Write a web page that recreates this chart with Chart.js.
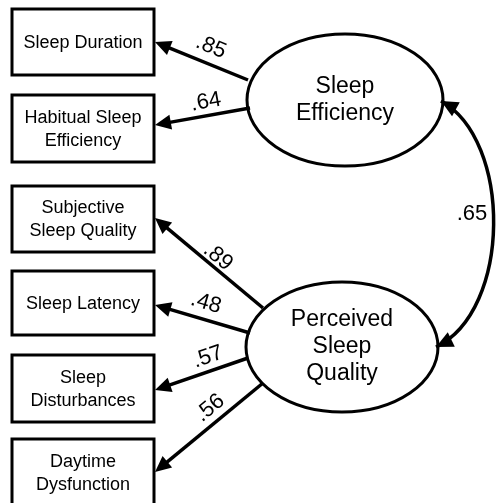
<!DOCTYPE html>
<html>
<head>
<meta charset="utf-8">
<script src="https://cdn.jsdelivr.net/npm/chart.js@4/dist/chart.umd.min.js"></script>
<style>
  html, body { margin: 0; padding: 0; background: #fff; }
  #wrap { width: 497px; height: 503px; }
</style>
</head>
<body>
<div id="wrap"><canvas id="myChart" width="497" height="503"></canvas></div>
<script>
// model contents
var factors = ['Sleep\nEfficiency', 'Perceived\nSleep\nQuality'];
var indicators = ['Sleep Duration', 'Habitual Sleep\nEfficiency', 'Subjective\nSleep Quality',
                  'Sleep Latency', 'Sleep\nDisturbances', 'Daytime\nDysfunction'];
var indicatorFactor = [0, 0, 1, 1, 1, 1];
var loadings = [.85, .64, .89, .48, .57, .56];
var factorCorrelation = .65;

// layout of the diagram (in axis units)
var boxX = [12, 154];
var boxY = [[9, 75], [95, 162], [186, 252], [271, 335], [355, 422], [439, 506]];
var ellipses = [{cx: 345, cy: 100, rx: 98, ry: 66}, {cx: 342, cy: 347, rx: 96, ry: 65}];
var arrowStart = [[248, 80], [250, 108], [263, 308], [250, 333], [248, 358], [263, 383]];
var arrowTipY = [42, 125, 218, 305, 390, 472];
var labelPos = [[211, 47], [206, 102], [218, 257], [206, 303], [208, 357], [210, 408]];
var corrCurve = [[441, 101], [512, 140], [512, 310], [436, 347]];
var corrLabelPos = [472, 214];

function fmt(v) { return v.toFixed(2).replace(/^0/, ''); }

function head(c, tx, ty, fx, fy, len, half) {
  var a = Math.atan2(ty - fy, tx - fx);
  c.beginPath();
  c.moveTo(tx, ty);
  c.lineTo(tx - len * Math.cos(a) + half * Math.sin(a), ty - len * Math.sin(a) - half * Math.cos(a));
  c.lineTo(tx - len * Math.cos(a) - half * Math.sin(a), ty - len * Math.sin(a) + half * Math.cos(a));
  c.closePath();
  c.fill();
  return a;
}

function multiText(c, txt, x, y, lh) {
  var lines = txt.split('\n');
  var y0 = y - (lines.length - 1) * lh / 2;
  lines.forEach(function (l, i) { c.fillText(l, x, y0 + i * lh); });
}

var pathDiagram = {
  id: 'pathDiagram',
  afterDraw: function (chart) {
    var c = chart.ctx, sx = chart.scales.x, sy = chart.scales.y;
    var X = function (v) { return sx.getPixelForValue(v); };
    var Y = function (v) { return sy.getPixelForValue(v); };
    c.save();
    c.strokeStyle = '#000';
    c.fillStyle = '#000';
    c.textAlign = 'center';
    c.textBaseline = 'middle';

    // indicator boxes
    c.lineWidth = 3;
    indicators.forEach(function (name, i) {
      var x0 = X(boxX[0]), x1 = X(boxX[1]), y0 = Y(boxY[i][0]), y1 = Y(boxY[i][1]);
      c.strokeRect(x0, y0, x1 - x0, y1 - y0);
      c.font = '18px "Liberation Sans", Arial, sans-serif';
      multiText(c, name, (x0 + x1) / 2, (y0 + y1) / 2 + 1, 23);
    });

    // latent factors
    factors.forEach(function (name, i) {
      var e = ellipses[i];
      c.lineWidth = 3;
      c.beginPath();
      c.ellipse(X(e.cx), Y(e.cy), e.rx, e.ry, 0, 0, Math.PI * 2);
      c.stroke();
      c.font = '23px "Liberation Sans", Arial, sans-serif';
      multiText(c, name, X(e.cx), Y(e.cy), 27);
    });

    // loadings
    loadings.forEach(function (v, i) {
      var fx = X(arrowStart[i][0]), fy = Y(arrowStart[i][1]);
      var tx = X(boxX[1] + 1), ty = Y(arrowTipY[i]);
      var a = Math.atan2(ty - fy, tx - fx);
      c.lineWidth = 3.5;
      c.beginPath();
      c.moveTo(fx, fy);
      c.lineTo(tx - 12 * Math.cos(a), ty - 12 * Math.sin(a));
      c.stroke();
      head(c, tx, ty, fx, fy, 16, 7.5);
      var ang = Math.atan2(fy - ty, fx - tx);
      c.save();
      c.translate(X(labelPos[i][0]), Y(labelPos[i][1]));
      c.rotate(ang);
      c.font = '22px "Liberation Sans", Arial, sans-serif';
      c.fillText(fmt(v), 0, 0);
      c.restore();
    });

    // factor correlation
    var p = corrCurve.map(function (q) { return [X(q[0]), Y(q[1])]; });
    c.lineWidth = 3.5;
    c.beginPath();
    c.moveTo(p[0][0], p[0][1]);
    c.bezierCurveTo(p[1][0], p[1][1], p[2][0], p[2][1], p[3][0], p[3][1]);
    c.stroke();
    head(c, p[0][0], p[0][1], p[1][0], p[1][1], 17, 8);
    head(c, p[3][0], p[3][1], p[2][0], p[2][1], 17, 8);
    c.font = '22px "Liberation Sans", Arial, sans-serif';
    c.fillText(fmt(factorCorrelation), X(corrLabelPos[0]), Y(corrLabelPos[1]));
    c.restore();
  }
};

var ctx = document.getElementById('myChart').getContext('2d');
var myChart = new Chart(ctx, {
  type: 'scatter',
  data: { datasets: [{ data: [], pointRadius: 0 }] },
  options: {
    responsive: false,
    animation: false,
    layout: { padding: 0 },
    plugins: { legend: { display: false }, tooltip: { enabled: false } },
    scales: {
      x: { type: 'linear', min: 0, max: 497, display: false },
      y: { type: 'linear', min: 0, max: 503, reverse: true, display: false }
    }
  },
  plugins: [pathDiagram]
});
</script>
</body>
</html>
